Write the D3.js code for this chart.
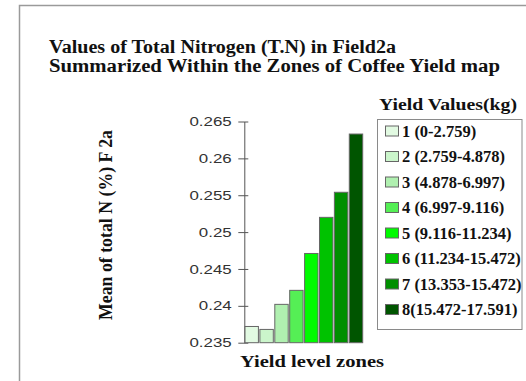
<!DOCTYPE html>
<html>
<head>
<meta charset="utf-8">
<script src="https://cdn.jsdelivr.net/npm/d3@7/dist/d3.min.js"></script>
<style>
  html, body { margin: 0; padding: 0; background: #fff; }
  svg { display: block; }
</style>
</head>
<body>
<svg id="chart" width="526" height="381"></svg>
<script>
// Yield zones, their mean total N (%) and legend ranges
const zones = [1, 2, 3, 4, 5, 6, 7, 8];
const meanN = [0.2372, 0.2368, 0.2402, 0.2421, 0.2471, 0.2520, 0.2554, 0.2633];
const zoneLabels = [
  "1 (0-2.759)",
  "2 (2.759-4.878)",
  "3 (4.878-6.997)",
  "4 (6.997-9.116)",
  "5 (9.116-11.234)",
  "6 (11.234-15.472)",
  "7 (13.353-15.472)",
  "8(15.472-17.591)"
];
const zoneColors = ["#e2fae2", "#cbf5cb", "#b0f0b0", "#55ef55", "#00fb00", "#00c200", "#008f00", "#005500"];
const yTicks = [0.235, 0.24, 0.245, 0.25, 0.255, 0.26, 0.265];
const tickText = ["0.235", "0.24", "0.245", "0.25", "0.255", "0.26", "0.265"];

const svg = d3.select("#chart");
const serif = "'Liberation Serif', 'Times New Roman', serif";

// outer frame
svg.append("rect")
  .attr("x", 19.5).attr("y", 5.5)
  .attr("width", 560).attr("height", 420)
  .attr("fill", "none").attr("stroke", "#9a9a9a").attr("stroke-width", 1.5);

// title
const title = svg.append("text")
  .attr("font-family", serif).attr("font-weight", "bold")
  .attr("font-size", 18.5).attr("fill", "#111");
title.append("tspan").attr("x", 49).attr("y", 53)
  .attr("textLength", 347).attr("lengthAdjust", "spacingAndGlyphs")
  .text("Values of Total Nitrogen (T.N) in Field2a");
title.append("tspan").attr("x", 49).attr("y", 71.5)
  .attr("textLength", 451).attr("lengthAdjust", "spacingAndGlyphs")
  .text("Summarized Within the Zones of Coffee Yield map");

// scales
const y = d3.scaleLinear().domain([0.235, 0.265]).range([342.7, 121.5]);
const x = d3.scaleBand().domain(zones).range([245, 362.7]).paddingInner(0.1).paddingOuter(0);

// y axis
const yAxis = d3.axisLeft(y)
  .tickValues(yTicks)
  .tickFormat((d, i) => tickText[i])
  .tickSizeInner(6).tickSizeOuter(0);
const gy = svg.append("g").attr("transform", "translate(244.3,0)").call(yAxis);
gy.select(".domain").attr("stroke", "#555").attr("stroke-width", 1);
gy.selectAll(".tick line").attr("x1", 4).attr("stroke", "#555");
gy.selectAll(".tick text")
  .attr("x", -9.7)
  .attr("transform", "scale(1.3,1)")
  .attr("font-family", "'Liberation Sans', Arial, sans-serif")
  .attr("font-size", 13)
  .attr("fill", "#333");

// bars
svg.append("g").selectAll("rect")
  .data(zones)
  .join("rect")
  .attr("x", d => x(d))
  .attr("width", x.bandwidth())
  .attr("y", (d, i) => y(meanN[i]))
  .attr("height", (d, i) => y(0.235) - y(meanN[i]))
  .attr("fill", (d, i) => zoneColors[i])
  .attr("stroke", "#666").attr("stroke-width", 1);

// axis titles
svg.append("text")
  .attr("transform", "translate(112,225) rotate(-90)")
  .attr("text-anchor", "middle")
  .attr("font-family", serif).attr("font-weight", "bold")
  .attr("font-size", 18).attr("fill", "#111")
  .attr("textLength", 190).attr("lengthAdjust", "spacingAndGlyphs")
  .text("Mean of total N (%) F 2a");

svg.append("text")
  .attr("x", 240).attr("y", 367)
  .attr("font-family", serif).attr("font-weight", "bold")
  .attr("font-size", 17).attr("fill", "#111")
  .attr("textLength", 144).attr("lengthAdjust", "spacingAndGlyphs")
  .text("Yield level zones");

// legend
svg.append("text")
  .attr("x", 379).attr("y", 110)
  .attr("font-family", serif).attr("font-weight", "bold")
  .attr("font-size", 17).attr("fill", "#111")
  .attr("textLength", 138).attr("lengthAdjust", "spacingAndGlyphs")
  .text("Yield Values(kg)");

svg.append("rect")
  .attr("x", 377.5).attr("y", 119.5)
  .attr("width", 144.5).attr("height", 210)
  .attr("fill", "#fff").attr("stroke", "#8a8a8a").attr("stroke-width", 1);

const legendY = d3.scalePoint().domain(zones).range([131, 309.5]);
const items = svg.append("g").selectAll("g")
  .data(zones)
  .join("g")
  .attr("transform", d => `translate(0,${legendY(d)})`);
items.append("rect")
  .attr("x", 385.5).attr("y", -5)
  .attr("width", 13).attr("height", 10)
  .attr("fill", (d, i) => zoneColors[i])
  .attr("stroke", "#666").attr("stroke-width", 1);
items.append("text")
  .attr("x", 402).attr("y", 5.5)
  .attr("font-family", serif).attr("font-weight", "bold")
  .attr("font-size", 16.5).attr("fill", "#111")
  .text((d, i) => zoneLabels[i]);
</script>
</body>
</html>
